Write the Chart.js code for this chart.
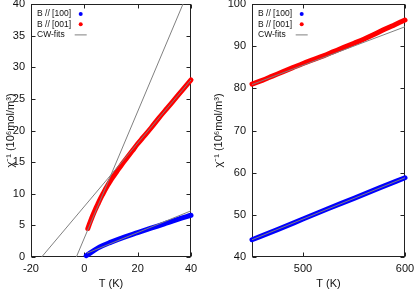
<!DOCTYPE html>
<html>
<head>
<meta charset="utf-8">
<script src="https://cdn.jsdelivr.net/npm/chart.js@4.4.1/dist/chart.umd.min.js"></script>
<style>
  html, body { margin: 0; padding: 0; background: #fff; }
  #wrap { position: relative; width: 415px; height: 291px; }
  .panel { position: absolute; top: 0; height: 291px; }
  #left { left: 0; width: 207px; }
  #right { left: 207px; width: 208px; }
</style>
</head>
<body>
<div id="wrap">
  <div class="panel" id="left"><canvas id="cLeft"></canvas></div>
  <div class="panel" id="right"><canvas id="cRight"></canvas></div>
</div>
<script>
// ===== Data
// low-T panel
const tB100Low   = [0.7, 5, 10, 15, 20, 25, 30, 35, 40];
const chiB100Low = [0.2, 1.4, 2.35, 3.15, 3.85, 4.55, 5.25, 5.95, 6.6];
const tB001Low   = [1.3, 2, 3, 4, 5, 6, 7, 8, 9, 10, 12, 14, 16, 18, 20, 22, 25, 28, 31, 34, 37, 40];
const chiB001Low = [4.5, 5.3, 6.4, 7.4, 8.3, 9.2, 10.0, 10.8, 11.5, 12.2, 13.4, 14.6, 15.7, 16.8, 17.9, 18.9, 20.4, 22.0, 23.5, 25.0, 26.5, 28.0];
// Curie-Weiss fits, low-T panel (end points)
const tFitSteep   = [-3, 37];
const chiFitSteep = [0, 40];
const tFitB001    = [-16, 40];
const chiFitB001  = [0, 28];
const tFitB100    = [1, 40];
const chiFitB100  = [0.6, 7.3];

// high-T panel
const tB100High   = [450, 475, 500, 525, 550, 575, 600];
const chiB100High = [44.1, 46.5, 49.0, 51.5, 53.9, 56.4, 58.8];
const tB001High   = [450, 460, 470, 480, 490, 500, 510, 520, 530, 540, 550, 560, 570, 580, 590, 600];
const chiB001High = [81.0, 81.9, 82.9, 83.9, 84.9, 85.9, 86.8, 87.7, 88.7, 89.7, 90.7, 91.7, 92.8, 94.0, 95.1, 96.2];
const tFitHighB001   = [450, 600];
const chiFitHighB001 = [80.9, 94.6];
const tFitHighB100   = [450, 600];
const chiFitHighB100 = [44.1, 58.8];

// ticks
const xTicksLow  = [-20, 0, 20, 40];
const yTicksLow  = [0, 5, 10, 15, 20, 25, 30, 35, 40];
const xTicksHigh = [500, 600];
const yTicksHigh = [40, 50, 60, 70, 80, 90, 100];

const seriesLabels = ['B // [100]', 'B // [001]', 'CW-fits'];

// ===== Styling
const FONT = "'Liberation Sans', Arial, Helvetica, sans-serif";
const BLUE = '#0000ff';
const RED = '#ff0000';
const GRAY = '#808080';

const pts = (xs, ys) => xs.map((x, i) => ({ x, y: ys[i] }));

const dataSet = (xs, ys, color) => ({
  data: pts(xs, ys), borderColor: color, backgroundColor: color,
  borderWidth: 5, pointRadius: 0, showLine: true, cubicInterpolationMode: 'monotone',
  borderCapStyle: 'round', borderJoinStyle: 'round', order: 2, clip: 4
});
const fitSet = (xs, ys) => ({
  data: pts(xs, ys), borderColor: GRAY, borderWidth: 1,
  pointRadius: 0, showLine: true, order: 1
});

// ===== gnuplot-ish frame with inward ticks on all sides
const gnuFrame = {
  id: 'gnuFrame',
  beforeDatasetsDraw(chart) {
    const { ctx, chartArea: a, scales: { x, y } } = chart;
    const L = Math.round(a.left) + 0.5, R = Math.round(a.right) - 0.5;
    const T = Math.round(a.top) + 0.5, B = Math.round(a.bottom) - 0.5;
    ctx.save();
    ctx.strokeStyle = '#222';
    ctx.lineWidth = 1;
    ctx.beginPath();
    x.ticks.forEach(t => {
      const px = Math.round(x.getPixelForValue(t.value)) + 0.5;
      ctx.moveTo(px, B); ctx.lineTo(px, B - 4);
      ctx.moveTo(px, T); ctx.lineTo(px, T + 4);
    });
    y.ticks.forEach(t => {
      const py = Math.round(y.getPixelForValue(t.value)) + 0.5;
      ctx.moveTo(L, py); ctx.lineTo(L + 4, py);
      ctx.moveTo(R, py); ctx.lineTo(R - 4, py);
    });
    ctx.stroke();
    ctx.strokeRect(L, T, R - L, B - T);
    ctx.restore();
  }
};

// ===== gnuplot-ish key: text first, symbol after
const gnuKey = {
  id: 'gnuKey',
  afterDraw(chart) {
    const { ctx, chartArea: a } = chart;
    const colors = [BLUE, RED, GRAY];
    ctx.save();
    ctx.font = '8.5px ' + FONT;
    ctx.textBaseline = 'middle';
    seriesLabels.forEach((lab, i) => {
      const yy = a.top + 10 + i * 10.2;
      ctx.fillStyle = '#111';
      ctx.fillText(lab, a.left + 6, yy);
      const sx = a.left + 49.7;
      if (i < 2) {
        ctx.fillStyle = colors[i];
        ctx.beginPath(); ctx.arc(sx, yy, 2, 0, Math.PI * 2); ctx.fill();
      } else {
        ctx.strokeStyle = GRAY; ctx.lineWidth = 1;
        ctx.beginPath(); ctx.moveTo(sx - 6, yy + 0.5); ctx.lineTo(sx + 6, yy + 0.5); ctx.stroke();
      }
    });
    ctx.restore();
  }
};

function makeChart(id, datasets, xr, yr, xTicks, yTicks, yAxisW, padRight, titlePad) {
  const tickFont = { family: FONT, size: 11 };
  return new Chart(document.getElementById(id), {
    type: 'scatter',
    data: { datasets },
    options: {
      responsive: true, maintainAspectRatio: false, animation: false,
      layout: { padding: { top: 4, right: padRight, bottom: 0, left: 0 } },
      plugins: { legend: { display: false }, tooltip: { enabled: false } },
      scales: {
        x: {
          type: 'linear', min: xr[0], max: xr[1],
          grid: { display: false, drawTicks: false }, border: { display: false },
          afterBuildTicks: s => { s.ticks = xTicks.map(v => ({ value: v })); },
          ticks: { font: tickFont, color: '#111', padding: 5, maxRotation: 0, autoSkip: false },
          title: { display: true, text: 'T (K)', font: tickFont, color: '#111', padding: 0 },
          afterFit: s => { s.height = 34; s.paddingLeft = 0; s.paddingRight = 0; }
        },
        y: {
          type: 'linear', min: yr[0], max: yr[1],
          grid: { display: false, drawTicks: false }, border: { display: false },
          afterBuildTicks: s => { s.ticks = yTicks.map(v => ({ value: v })); },
          ticks: { font: tickFont, color: '#111', padding: 6, autoSkip: false },
          title: { display: true, text: 'χ⁻¹ (10⁶mol/m³)', font: tickFont, color: '#111', padding: { top: titlePad, bottom: 0 } },
          afterFit: s => { s.width = yAxisW; s.paddingTop = 0; s.paddingBottom = 0; }
        }
      }
    },
    plugins: [gnuFrame, gnuKey]
  });
}

makeChart('cLeft', [
  fitSet(tFitSteep, chiFitSteep),
  fitSet(tFitB001, chiFitB001),
  fitSet(tFitB100, chiFitB100),
  dataSet(tB100Low, chiB100Low, BLUE),
  dataSet(tB001Low, chiB001Low, RED)
], [-20, 40], [0, 40], xTicksLow, yTicksLow, 31, 16, 4);

makeChart('cRight', [
  fitSet(tFitHighB001, chiFitHighB001),
  fitSet(tFitHighB100, chiFitHighB100),
  dataSet(tB100High, chiB100High, BLUE),
  dataSet(tB001High, chiB001High, RED)
], [450, 600], [40, 100], xTicksHigh, yTicksHigh, 45, 10, 5);
</script>
</body>
</html>
